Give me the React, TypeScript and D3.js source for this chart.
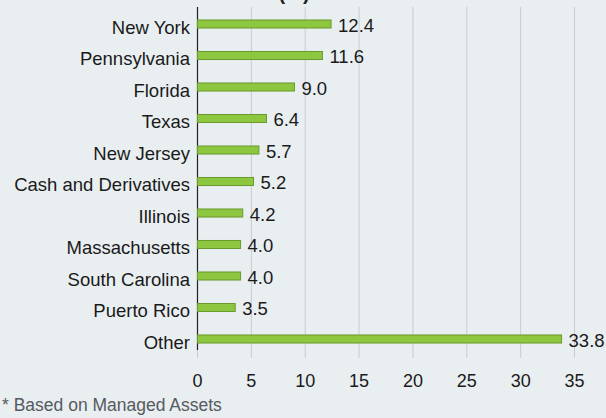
import React from "react";
import * as d3 from "d3";

const categories = [
  "New York",
  "Pennsylvania",
  "Florida",
  "Texas",
  "New Jersey",
  "Cash and Derivatives",
  "Illinois",
  "Massachusetts",
  "South Carolina",
  "Puerto Rico",
  "Other",
];
const values = [12.4, 11.6, 9.0, 6.4, 5.7, 5.2, 4.2, 4.0, 4.0, 3.5, 33.8];
const xTicks = [0, 5, 10, 15, 20, 25, 30, 35];
const titleText = "(%)";
const footnote = "* Based on Managed Assets";

const W = 606;
const H = 418;
const FONT = "'Liberation Sans', Arial, sans-serif";

export default function App() {
  const x = d3.scaleLinear().domain([0, 35]).range([197.5, 574.5]);
  const y = d3.scaleBand<string>().domain(categories).range([8.25, 354.75]).paddingInner(0.745).paddingOuter(0.3725);
  const bh = y.bandwidth();
  const plotTop = 7;
  const gridBottom = 358;
  return (
    <div style={{ position: "absolute", left: 0, top: 0 }}>
      <svg width={W} height={H} style={{ display: "block", background: "#e9eef1" }}>
        <rect x={0} y={0} width={W} height={H} fill="#e9eef1" />
        <text x={294} y={-0.5} textAnchor="middle" fontFamily={FONT} fontSize={20} fontWeight="bold" fill="#222">
          {titleText}
        </text>
        {xTicks.map((t) => (
          <line key={"g" + t} x1={x(t)} x2={x(t)} y1={plotTop} y2={gridBottom} stroke="#c9cccf" strokeWidth={1} />
        ))}
        <line x1={x(0)} x2={x(0)} y1={plotTop} y2={350} stroke="#222" strokeWidth={1.2} />
        {categories.map((c, i) => {
          const cy = (y(c) as number) + bh / 2;
          return (
            <g key={c}>
              <rect
                x={x(0)}
                y={y(c)}
                width={x(values[i]) - x(0)}
                height={bh}
                fill="#8dc63f"
                stroke="#6b9a2c"
                strokeWidth={1}
              />
              <text x={190} y={cy + 9.5} textAnchor="end" fontFamily={FONT} fontSize={18.5} fill="#1a1a1a">
                {c}
              </text>
              <text x={x(values[i]) + 7} y={cy + 7.5} fontFamily={FONT} fontSize={18.5} fill="#1a1a1a">
                {values[i].toFixed(1)}
              </text>
            </g>
          );
        })}
        {xTicks.map((t) => (
          <text key={"t" + t} x={x(t)} y={386.5} textAnchor="middle" fontFamily={FONT} fontSize={18} fill="#1a1a1a">
            {t}
          </text>
        ))}
        <text x={2} y={411} fontFamily={FONT} fontSize={17.5} fill="#555b60">
          {footnote}
        </text>
      </svg>
    </div>
  );
}
